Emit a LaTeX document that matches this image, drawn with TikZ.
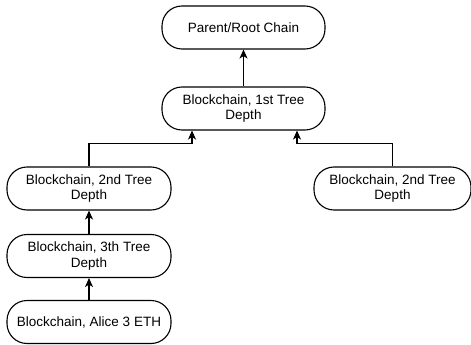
\documentclass[tikz,border=0pt]{standalone}
\usepackage{fontspec}
\setmainfont{Liberation Sans}
\usetikzlibrary{arrows.meta}
\begin{document}
\begin{tikzpicture}[x=1pt,y=-1pt,
  chain/.style={draw=black,line width=1.1pt,rounded corners=20pt,fill=white,
    minimum height=43pt,inner sep=0pt,align=center,
    font=\fontsize{13.5}{15.5}\selectfont},
  arr/.style={draw=black,line width=1.1pt,-{Stealth[length=9pt,width=8pt,inset=2.5pt]}}]
\useasboundingbox (0,0) rectangle (471,345);
\node[chain,minimum width=163pt] (root) at (243.5,27.5) {Parent/Root Chain};
\node[chain,minimum width=163pt] (d1) at (243.5,108.5) {Blockchain, 1st Tree\\Depth};
\node[chain,minimum width=164pt] (l2) at (89,188.5) {Blockchain, 2nd Tree\\Depth};
\node[chain,minimum width=157pt] (r2) at (392.5,188.5) {Blockchain, 2nd Tree\\Depth};
\node[chain,minimum width=164pt] (l3) at (89,256) {Blockchain, 3th Tree\\Depth};
\node[chain,minimum width=164pt] (al) at (89,322) {Blockchain, Alice 3 ETH};
\coordinate (a1) at (192,143.5);
\coordinate (a2) at (297,143.5);
\draw[arr] (d1.north) -- (root.south);
\draw[arr] (l2.north) |- (a1) -- (d1.south -| a1);
\draw[arr] (r2.north) |- (a2) -- (d1.south -| a2);
\draw[arr] (l3.north) -- (l2.south);
\draw[arr] (al.north) -- (l3.south);
\end{tikzpicture}
\end{document}
